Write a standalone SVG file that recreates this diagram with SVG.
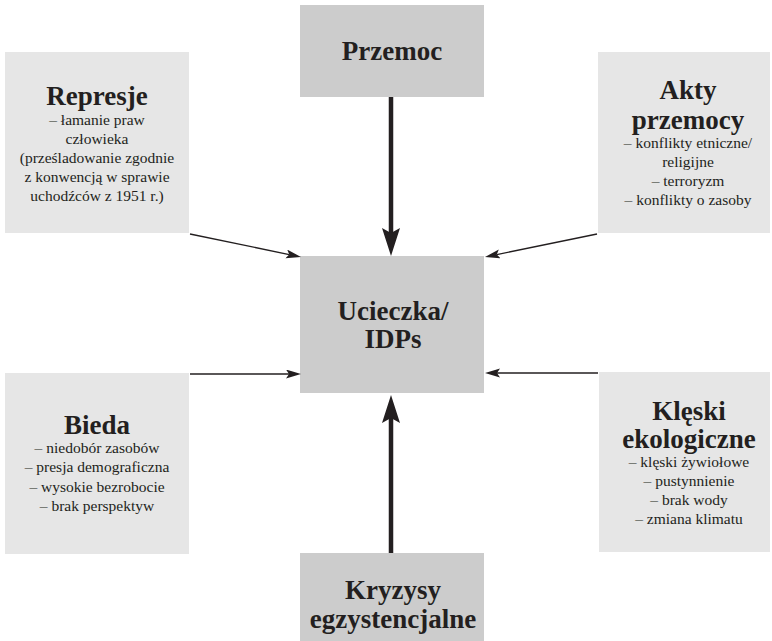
<svg xmlns="http://www.w3.org/2000/svg" width="772" height="641" viewBox="0 0 772 641">
<style>
.light{fill:#e6e6e6}
.dark{fill:#cccccc}
text{font-family:"Liberation Serif","Times New Roman",serif;fill:#231f20;text-anchor:middle}
.t{font-size:27px;font-weight:bold}
.b{font-size:15.5px}
.thick{stroke:#231f20;stroke-width:4.5;fill:none}
.thin{stroke:#231f20;stroke-width:1.3;fill:none}
</style>
<defs>
<marker id="ah-thick" markerUnits="userSpaceOnUse" markerWidth="30" markerHeight="20" refX="5" refY="9" orient="auto">
<path d="M0,0 L28,9 L0,18 L5,9 z" fill="#231f20"/>
</marker>
<marker id="ah-thin" markerUnits="userSpaceOnUse" markerWidth="17" markerHeight="11" refX="3" refY="4.5" orient="auto">
<path d="M0,0 L15,4.5 L0,9 L3,4.5 z" fill="#231f20"/>
</marker>
</defs>
<rect width="772" height="641" fill="#ffffff"/>
<g id="przemoc">
<rect class="dark" x="300" y="5" width="184" height="92"/>
<text class="t" x="392" y="60">Przemoc</text>
</g>
<g id="represje">
<rect class="light" x="5" y="52" width="184" height="181"/>
<text class="t" x="97" y="105">Represje</text>
<text class="b" x="97" y="125">– łamanie praw</text>
<text class="b" x="97" y="144">człowieka</text>
<text class="b" x="97" y="163">(prześladowanie zgodnie</text>
<text class="b" x="97" y="182">z konwencją w sprawie</text>
<text class="b" x="97" y="201">uchodźców z 1951 r.)</text>
</g>
<g id="akty">
<rect class="light" x="598" y="52" width="172" height="181"/>
<text class="t" x="688" y="99">Akty</text>
<text class="t" x="688" y="129">przemocy</text>
<text class="b" x="688" y="148">– konflikty etniczne/</text>
<text class="b" x="688" y="167">religijne</text>
<text class="b" x="688" y="186">– terroryzm</text>
<text class="b" x="688" y="205">– konflikty o zasoby</text>
</g>
<g id="ucieczka">
<rect class="dark" x="300" y="256" width="184" height="137"/>
<text class="t" x="393" y="320">Ucieczka/</text>
<text class="t" x="393" y="348">IDPs</text>
</g>
<g id="bieda">
<rect class="light" x="5" y="373" width="184" height="181"/>
<text class="t" x="97" y="434">Bieda</text>
<text class="b" x="97" y="453">– niedobór zasobów</text>
<text class="b" x="97" y="472">– presja demograficzna</text>
<text class="b" x="97" y="492">– wysokie bezrobocie</text>
<text class="b" x="97" y="511">– brak perspektyw</text>
</g>
<g id="kleski">
<rect class="light" x="599" y="372" width="171" height="180"/>
<text class="t" x="689" y="420">Klęski</text>
<text class="t" x="689" y="448">ekologiczne</text>
<text class="b" x="689" y="467">– klęski żywiołowe</text>
<text class="b" x="689" y="486">– pustynnienie</text>
<text class="b" x="689" y="505">– brak wody</text>
<text class="b" x="689" y="524">– zmiana klimatu</text>
</g>
<g id="kryzysy">
<rect class="dark" x="300" y="553" width="184" height="88"/>
<text class="t" x="393" y="599">Kryzysy</text>
<text class="t" x="393" y="628">egzystencjalne</text>
</g>
<g id="connectors">
<line class="thick" x1="391" y1="97" x2="391" y2="233" marker-end="url(#ah-thick)"/>
<line class="thick" x1="391" y1="553" x2="391" y2="418" marker-end="url(#ah-thick)"/>
<line class="thin" x1="190" y1="234" x2="289.25" y2="254.57" marker-end="url(#ah-thin)"/>
<line class="thin" x1="597" y1="234" x2="496.75" y2="254.59" marker-end="url(#ah-thin)"/>
<line class="thin" x1="190" y1="374" x2="289" y2="374" marker-end="url(#ah-thin)"/>
<line class="thin" x1="598" y1="373" x2="497" y2="373" marker-end="url(#ah-thin)"/>
</g>
</svg>
